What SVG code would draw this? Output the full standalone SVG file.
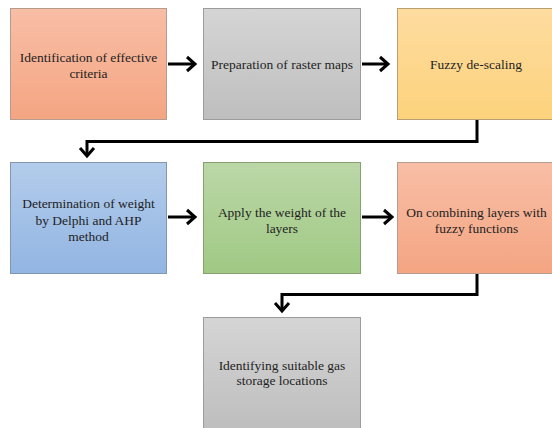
<svg xmlns="http://www.w3.org/2000/svg" width="552" height="428" viewBox="0 0 552 428">
<style>
  .box { stroke-width: 1; }
  .salmon { fill: url(#gSalmon); stroke: #b59c90; }
  .gray { fill: url(#gGray); stroke: #9c9c9c; }
  .yellow { fill: url(#gYellow); stroke: #b8a070; }
  .blue { fill: url(#gBlue); stroke: #8296b0; }
  .green { fill: url(#gGreen); stroke: #86a070; }
  text { font-size: 13.5px; fill: #1e1e1e; text-anchor: middle; }
  .conn { fill: none; stroke: #000; stroke-width: 3; }
</style>
<defs>
  <linearGradient id="gSalmon" x1="0" y1="0" x2="0" y2="1">
    <stop offset="0" stop-color="#f8bea6"/>
    <stop offset="1" stop-color="#f4a582"/>
  </linearGradient>
  <linearGradient id="gGray" x1="0" y1="0" x2="0" y2="1">
    <stop offset="0" stop-color="#d5d5d5"/>
    <stop offset="1" stop-color="#bebebe"/>
  </linearGradient>
  <linearGradient id="gYellow" x1="0" y1="0" x2="0" y2="1">
    <stop offset="0" stop-color="#fedca0"/>
    <stop offset="1" stop-color="#fcd27c"/>
  </linearGradient>
  <linearGradient id="gBlue" x1="0" y1="0" x2="0" y2="1">
    <stop offset="0" stop-color="#b3cceb"/>
    <stop offset="1" stop-color="#92b5e2"/>
  </linearGradient>
  <linearGradient id="gGreen" x1="0" y1="0" x2="0" y2="1">
    <stop offset="0" stop-color="#bbd7a7"/>
    <stop offset="1" stop-color="#a0c984"/>
  </linearGradient>
  <marker id="chev" markerUnits="userSpaceOnUse" viewBox="-12 -10 14 20" refX="0" refY="0" markerWidth="14" markerHeight="20" orient="auto" overflow="visible">
    <path d="M-8,-7 L0,0 L-8,7" fill="none" stroke="#000" stroke-width="3" stroke-linejoin="miter"/>
  </marker>
</defs>

<g id="n1">
  <rect class="box salmon" x="10.5" y="8.5" width="156" height="111"/>
  <text x="88.5" y="62" style="font-family:'Liberation Serif',serif">Identification of effective</text>
  <text x="88.5" y="77.5" style="font-family:'Liberation Serif',serif">criteria</text>
</g>
<g id="n2">
  <rect class="box gray" x="203.5" y="8.5" width="157" height="111"/>
  <text x="282" y="68.5" style="font-family:'Liberation Serif',serif">Preparation of raster maps</text>
</g>
<g id="n3">
  <rect class="box yellow" x="397.5" y="8.5" width="158" height="111"/>
  <text x="476" y="68.5" style="font-family:'Liberation Serif',serif">Fuzzy de-scaling</text>
</g>
<g id="n4">
  <rect class="box blue" x="10.5" y="162.5" width="156" height="111"/>
  <text x="88.5" y="207.5" style="font-family:'Liberation Serif',serif">Determination of weight</text>
  <text x="88.5" y="224.5" style="font-family:'Liberation Serif',serif">by Delphi and AHP</text>
  <text x="88.5" y="241" style="font-family:'Liberation Serif',serif">method</text>
</g>
<g id="n5">
  <rect class="box green" x="203.5" y="162.5" width="157" height="111"/>
  <text x="282" y="216.5" style="font-family:'Liberation Serif',serif">Apply the weight of the</text>
  <text x="282" y="232.5" style="font-family:'Liberation Serif',serif">layers</text>
</g>
<g id="n6">
  <rect class="box salmon" x="397.5" y="162.5" width="158" height="111"/>
  <text x="476.5" y="216.5" style="font-family:'Liberation Serif',serif">On combining layers with</text>
  <text x="476.5" y="232.5" style="font-family:'Liberation Serif',serif">fuzzy functions</text>
</g>
<g id="n7">
  <rect class="box gray" x="203.5" y="317.5" width="157" height="112"/>
  <text x="282" y="369.5" style="font-family:'Liberation Serif',serif">Identifying suitable gas</text>
  <text x="282" y="385" style="font-family:'Liberation Serif',serif">storage locations</text>
</g>

<g id="connectors">
  <path class="conn" d="M168,64 H195" marker-end="url(#chev)"/>
  <path class="conn" d="M362,64 H388" marker-end="url(#chev)"/>
  <path class="conn" d="M477,120 V141.5 H87 V156" marker-end="url(#chev)"/>
  <path class="conn" d="M168,217 H195" marker-end="url(#chev)"/>
  <path class="conn" d="M362,217 H392" marker-end="url(#chev)"/>
  <path class="conn" d="M477,274 V294.5 H282 V311" marker-end="url(#chev)"/>
</g>
</svg>
